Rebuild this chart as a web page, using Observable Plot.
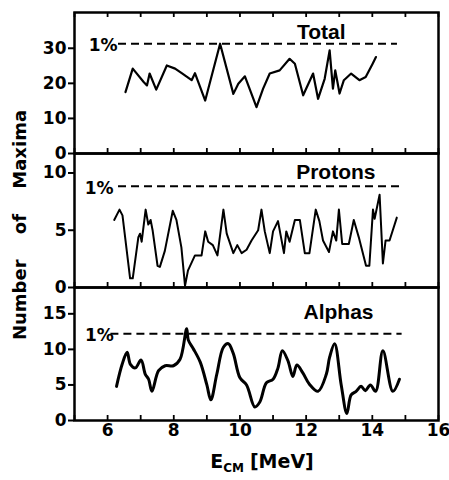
<!DOCTYPE html>
<html>
<head>
<meta charset="utf-8">
<script src="https://cdn.jsdelivr.net/npm/d3@7"></script>
<script src="https://cdn.jsdelivr.net/npm/@observablehq/plot@0.6"></script>
<style>
html, body { margin: 0; padding: 0; background: #fff; overflow: hidden; }
#wrap { position: relative; width: 449px; height: 480px; background: #fff; overflow: hidden; }
#wrap svg { position: absolute; left: 0; }
g[aria-label="y-axis tick"] { stroke-width: 2px; }
.ylab { position: absolute; left: 19px; top: 225px; transform: translate(-50%, -50%) rotate(-90deg);
  white-space: nowrap; font: bold 18px "DejaVu Sans", sans-serif; word-spacing: 19px; color: #000; }
.xlab { position: absolute; left: 262px; top: 450px; transform: translateX(-50%);
  white-space: nowrap; font: bold 19px "DejaVu Sans", sans-serif; color: #000; }
.xlab sub { font-size: 12px; vertical-align: -4px; margin-right: 6px; }
</style>
</head>
<body>
<div id="wrap">
  <div class="ylab">Number of Maxima</div>
  <div class="xlab">E<sub>CM</sub>[MeV]</div>
</div>
<script>
// ---- data ----
const xTicks = [5, 6, 7, 8, 9, 10, 11, 12, 13, 14, 15, 16];

const totalE = [6.54,6.76,7.09,7.19,7.27,7.47,7.79,8.04,8.24,8.54,8.64,8.95,9.40,9.80,9.95,10.15,10.50,10.70,10.90,11.20,11.50,11.66,11.91,12.21,12.36,12.56,12.71,12.81,12.88,13.01,13.14,13.36,13.61,13.80,14.01,14.11];
const totalN = [17.5,24.2,20.4,19.4,22.8,18.2,25.1,24.2,22.9,20.9,22.9,15.1,31.3,17.0,19.9,22.0,13.2,18.5,22.8,23.7,27.0,25.6,16.6,22.8,15.6,21.3,29.4,18.5,23.7,17.1,20.9,22.8,20.9,21.8,25.6,27.5];

const protonsE = [6.20,6.36,6.45,6.68,6.76,6.93,6.98,7.03,7.15,7.23,7.30,7.36,7.51,7.58,7.73,7.97,8.08,8.23,8.34,8.43,8.48,8.64,8.84,8.95,9.04,9.18,9.32,9.50,9.60,9.80,9.92,10.05,10.20,10.35,10.55,10.65,10.75,10.90,11.00,11.15,11.33,11.40,11.50,11.66,11.81,11.96,12.10,12.29,12.40,12.51,12.69,12.81,12.91,12.99,13.09,13.29,13.44,13.59,13.81,13.91,14.02,14.07,14.22,14.32,14.40,14.52,14.74];
const protonsN = [5.9,6.8,6.3,0.8,0.8,4.4,4.7,4.0,6.8,5.5,5.9,5.0,1.9,1.8,3.2,6.7,5.9,3.5,0.15,1.5,1.8,2.8,2.8,4.9,4.0,3.7,2.8,6.8,4.7,3.0,3.7,3.0,3.3,4.1,5.0,6.8,4.9,3.0,4.9,5.8,3.0,4.9,4.0,5.9,5.9,3.0,3.0,6.8,5.8,4.1,3.1,4.9,4.1,6.8,3.8,3.8,5.9,4.4,1.9,1.9,6.8,6.0,8.1,2.1,4.1,4.1,6.1];

const alphasE = [6.27,6.44,6.59,6.69,6.84,7.01,7.14,7.24,7.34,7.54,7.74,7.99,8.19,8.39,8.44,8.59,8.80,9.00,9.12,9.30,9.50,9.65,9.80,10.00,10.20,10.45,10.60,10.80,11.00,11.15,11.28,11.45,11.60,11.72,11.90,12.10,12.36,12.61,12.71,12.86,13.06,13.23,13.36,13.51,13.66,13.79,13.94,14.10,14.32,14.62,14.82];
const alphasN = [4.8,7.9,9.6,7.9,7.4,8.5,6.5,5.8,4.1,7.0,7.7,7.7,8.6,12.9,11.3,10.1,8.2,5.0,2.9,6.5,10.3,10.8,9.4,6.0,5.0,1.9,2.6,5.3,5.8,7.4,9.8,8.4,6.2,7.8,6.7,5.1,4.1,6.5,8.9,10.8,5.0,1.0,3.6,4.1,4.8,4.2,5.0,4.1,9.8,4.1,5.8];

const panelTitles = ["Total", "Protons", "Alphas"];
const yDomains = [[0, 40.2], [0, 11.7], [0, 18.7]];
const yTickValues = [[0, 10, 20, 30], [0, 5, 10], [0, 5, 10, 15]];
const onePercent = [31.3, 8.85, 12.2];
const onePercentFrom = [6.33, 6.33, 6.10];
const onePercentTo = [14.76, 14.90, 14.90];
const thresholdLabel = "1%";

// ---- drawing ----
const wrap = document.getElementById("wrap");

function panel(i, E, N, cfg) {
  const data = E.map((e, k) => ({e, n: N[k]}));
  const plotH = cfg.height - cfg.marginTop - cfg.marginBottom;
  const marks = [
    Plot.ruleX(xTicks, {x: d => d, insetTop: plotH - 5, strokeWidth: 1.8}),
  ];
  if (cfg.topTicks) marks.push(Plot.ruleX(xTicks, {x: d => d, insetBottom: plotH - 5, strokeWidth: 1.8}));
  marks.push(
    Plot.ruleY([onePercent[i]], {y: d => d, x1: () => onePercentFrom[i], x2: () => onePercentTo[i],
      strokeDasharray: "8,5", strokeWidth: 2}),
    Plot.text([onePercent[i]], {x: () => onePercentFrom[i], y: d => d, text: () => thresholdLabel,
      textAnchor: "end", lineAnchor: "middle", dx: cfg.pctDx, dy: 2,
      fontFamily: "DejaVu Sans", fontWeight: "bold", fontSize: 17}),
    Plot.line(data, {x: "e", y: "n", curve: cfg.curve, strokeWidth: cfg.sw, strokeLinejoin: "round"}),
    Plot.text([panelTitles[i]], {frameAnchor: "top-right", dx: cfg.titleDx, dy: cfg.titleDy,
      textAnchor: "end", lineAnchor: "bottom",
      fontFamily: "Liberation Sans", fontWeight: "bold", fontSize: 21}),
    Plot.frame({strokeWidth: 2.5})
  );
  const svg = Plot.plot({
    width: 449,
    height: cfg.height,
    marginLeft: 74,
    marginRight: 11,
    marginTop: cfg.marginTop,
    marginBottom: cfg.marginBottom,
    x: {domain: [5, 16], axis: cfg.xAxis ? "bottom" : null, ticks: xTicks,
        tickFormat: d => (d % 2 === 0 && d > 5) ? String(d) : "", tickSize: 0, tickPadding: 3, label: null},
    y: {domain: yDomains[i], ticks: yTickValues[i], tickSize: 6, tickPadding: 2, label: null},
    style: {background: "transparent", overflow: "visible", fontFamily: "DejaVu Sans",
            fontSize: "17px", fontWeight: "bold", color: "black"},
    marks
  });
  svg.style.top = cfg.top + "px";
  wrap.appendChild(svg);
}

panel(0, totalE, totalN, {top: 0, height: 153, marginTop: 12, marginBottom: 0, topTicks: true, xAxis: false,
  curve: "linear", sw: 2.2, titleDx: -93, titleDy: 26, pctDx: -1});
panel(1, protonsE, protonsN, {top: 153, height: 134, marginTop: 0, marginBottom: 0, topTicks: false, xAxis: false,
  curve: "linear", sw: 2, titleDx: -63, titleDy: 25, pctDx: -5});
panel(2, alphasE, alphasN, {top: 287, height: 193, marginTop: 0, marginBottom: 60, topTicks: false, xAxis: true,
  curve: "catmull-rom", sw: 3, titleDx: -65, titleDy: 31, pctDx: 3});
</script>
</body>
</html>
